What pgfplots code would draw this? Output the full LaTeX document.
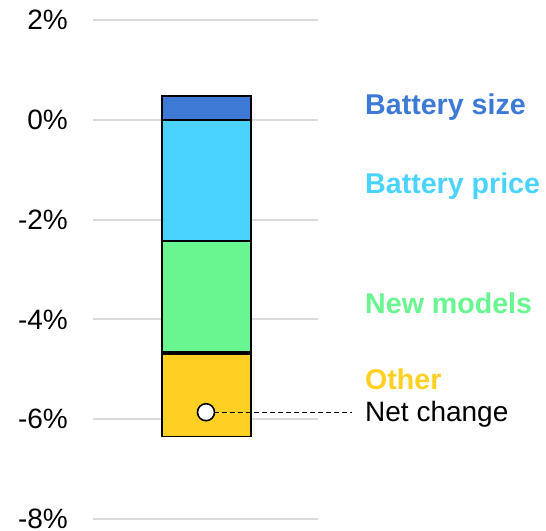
\documentclass[border=0pt]{standalone}
\usepackage{pgfplots}
\pgfplotsset{compat=1.18}
\usepackage{fontspec}
\setmainfont{Liberation Sans}
\definecolor{csize}{HTML}{3D7AD6}
\definecolor{cprice}{HTML}{4BD3FF}
\definecolor{cmodels}{HTML}{69F590}
\definecolor{cother}{HTML}{FDD023}
\definecolor{cgrid}{HTML}{DADADA}
\begin{document}
\begin{tikzpicture}[x=1pt,y=1pt]
\useasboundingbox (-93,-11) rectangle (453,519);
\begin{axis}[
  at={(0,0)}, anchor=south west,
  scale only axis, width=225pt, height=499pt,
  xmin=0, xmax=225, ymin=-8, ymax=2,
  axis line style={draw=none}, tick style={draw=none},
  xtick=\empty,
  ytick={-8,-6,-4,-2,0,2},
  yticklabels={-8\%,-6\%,-4\%,-2\%,0\%,2\%},
  yticklabel style={anchor=east, inner sep=0pt, xshift=-25pt, font=\fontsize{28}{32}\selectfont},
  ymajorgrids, grid style={cgrid, line width=2pt},
  clip=false,
]
\addplot[fill=csize, draw=black, line width=1.6pt] coordinates {(69,0) (158,0) (158,0.48) (69,0.48)} -- cycle;
\addplot[fill=cprice, draw=black, line width=1.6pt] coordinates {(69,0) (158,0) (158,-2.43) (69,-2.43)} -- cycle;
\addplot[fill=cmodels, draw=black, line width=1.6pt] coordinates {(69,-2.43) (158,-2.43) (158,-4.65) (69,-4.65)} -- cycle;
\addplot[fill=cother, draw=black, line width=1.6pt] coordinates {(69,-4.69) (158,-4.69) (158,-6.35) (69,-6.35)} -- cycle;
\addplot[black, line width=1.4pt, dash pattern=on 5pt off 3pt] coordinates {(113,-5.86) (259,-5.86)};
\addplot[only marks, mark=*, mark size=8.5pt, mark options={fill=white, draw=black, line width=1.6pt, solid}] coordinates {(113,-5.86)};
\node[anchor=west, inner sep=0pt, text=csize, font=\fontsize{28.6}{32}\selectfont\bfseries] at (axis cs:272,0.25) {Battery size};
\node[anchor=west, inner sep=0pt, text=cprice, font=\fontsize{28.6}{32}\selectfont\bfseries] at (axis cs:272,-1.33) {Battery price};
\node[anchor=west, inner sep=0pt, text=cmodels, font=\fontsize{28.6}{32}\selectfont\bfseries] at (axis cs:272,-3.68) {New models};
\node[anchor=west, inner sep=0pt, text=cother, font=\fontsize{28.6}{32}\selectfont\bfseries] at (axis cs:272,-5.2) {Other};
\node[anchor=west, inner sep=0pt, text=black, font=\fontsize{28}{32}\selectfont] at (axis cs:272,-5.9) {Net change};
\end{axis}
\end{tikzpicture}
\end{document}
